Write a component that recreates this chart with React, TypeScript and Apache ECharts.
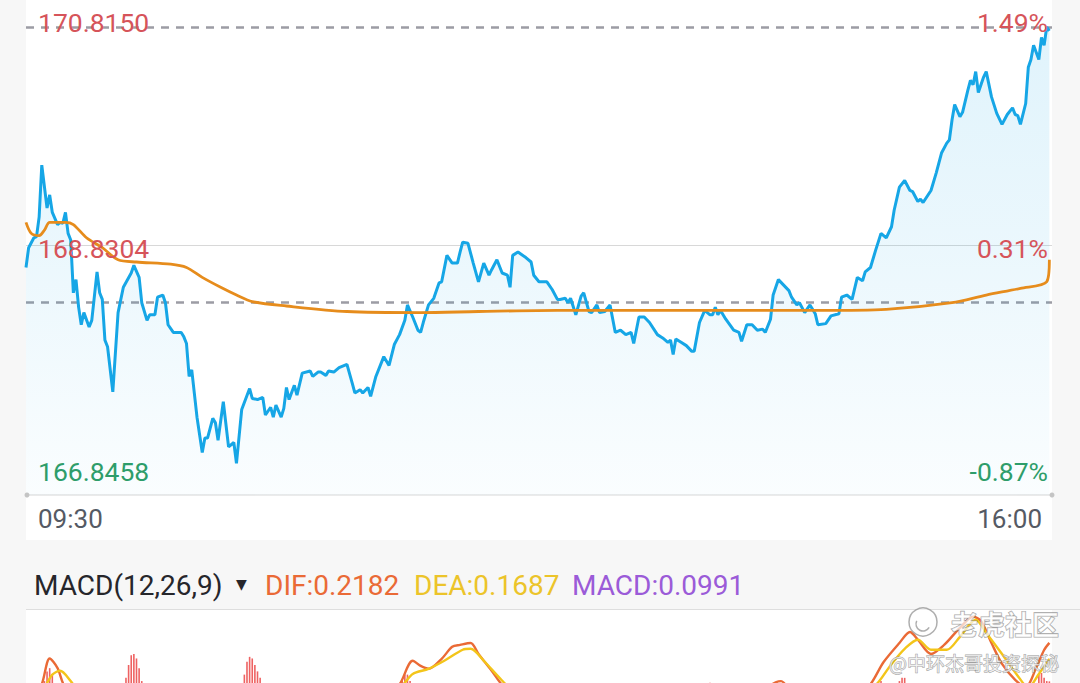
import React, { useEffect, useRef } from "react";
import * as echarts from "echarts";

// ---- price panel (minutes since 09:30, price) ----
const priceMinutes = [0,1,3,4,5,6,8,9,10,12,13,14,15,16,17,18,19,20,21,22,24,25,27,28,29,30,31,33,35,37,40,41,43,44,46,47,49,50,52,53,54,56,59,60,61,62,63,65,67,68,69,71,72,73,75,77,79,80,82,85,86,88,90,91,93,94,95,97,98,99,100,102,103,105,108,109,111,112,114,115,117,119,122,124,125,127,128,130,131,132,133,136,138,140,142,144,145,147,149,150,151,153,155,157,158,160,162,164,165,166,168,170,172,174,176,177,179,181,183,184,185,187,190,192,193,195,198,200,202,203,205,206,207,209,211,212,214,215,217,218,220,222,224,226,228,230,231,233,235,237,240,242,244,245,246,247,249,251,253,254,256,258,260,261,262,263,264,266,269,271,272,274,276,278,280,281,283,284,286,288,290,291,293,294,296,298,300,301,304,306,309,310,312,314,316,318,319,321,323,325,327,329,330,332,334,336,337,339,340,341,344,346,348,350,351,352,353,355,356,358,359,360,361,362,364,365,367,369,371,373,375,376,377,378,380,381,382,383,385,386,387,388,389];
const prices = [168.63,168.81,168.90,168.91,169.09,169.56,169.17,169.29,169.13,169.02,169.04,169.03,169.13,168.94,168.88,168.40,168.52,168.27,168.11,168.22,168.09,168.15,168.59,168.40,168.34,167.97,167.91,167.50,168.22,168.45,168.58,168.65,168.54,168.31,168.15,168.20,168.20,168.36,168.38,168.31,168.11,168.04,168.04,168.00,167.94,167.64,167.70,167.27,166.95,167.08,167.08,167.26,167.22,167.06,167.41,167.00,167.04,166.85,167.34,167.53,167.44,167.43,167.45,167.29,167.36,167.27,167.38,167.27,167.35,167.54,167.43,167.56,167.47,167.67,167.69,167.64,167.68,167.68,167.65,167.69,167.68,167.72,167.75,167.58,167.49,167.52,167.49,167.54,167.46,167.55,167.64,167.82,167.74,167.93,168.02,168.15,168.29,168.18,168.06,168.04,168.13,168.29,168.35,168.49,168.50,168.74,168.67,168.67,168.77,168.86,168.85,168.67,168.50,168.67,168.56,168.61,168.70,168.58,168.56,168.45,168.74,168.77,168.72,168.68,168.56,168.50,168.50,168.43,168.34,168.34,168.35,168.31,168.35,168.20,168.37,168.40,168.23,168.22,168.29,168.22,168.23,168.29,168.04,168.06,168.02,168.04,167.94,168.18,168.18,168.13,168.02,167.99,167.95,167.97,167.84,167.98,167.95,167.92,167.87,167.87,168.13,168.24,168.20,168.20,168.27,168.20,168.24,168.16,168.06,168.04,167.96,168.11,168.11,168.06,168.07,168.04,168.16,168.38,168.52,168.47,168.42,168.36,168.29,168.31,168.22,168.29,168.21,168.11,168.12,168.19,168.21,168.36,168.38,168.34,168.54,168.51,168.59,168.63,168.79,168.94,168.90,169.00,169.15,169.36,169.42,169.33,169.32,169.23,169.25,169.22,169.33,169.49,169.67,169.76,169.79,169.97,170.11,170.00,170.04,170.24,170.33,170.29,170.41,170.22,170.36,170.41,170.18,170.03,169.93,170.02,170.08,170.02,170.01,169.93,170.12,170.45,170.52,170.65,170.52,170.72,170.65,170.815,170.78];

const avgMinutes = [0,2,5,7,9,15,18,23,29,35,42,55,61,67,74,80,86,99,122,150,172,202,302,327,352,365,378,388,389];
const avgPrices = [169.04,168.94,168.92,168.97,169.04,169.04,169.02,168.90,168.81,168.70,168.68,168.66,168.63,168.54,168.45,168.38,168.32,168.28,168.23,168.22,168.23,168.24,168.24,168.25,168.31,168.38,168.44,168.50,168.70];

const prevClose = 168.3073;
const priceHigh = 170.815;
const priceMid = 168.8304;
const priceAxisMin = 166.563;
const leftLabels = ["170.8150", "168.8304", "166.8458"];
const rightLabels = ["1.49%", "0.31%", "-0.87%"];
const timeLabels = ["09:30", "16:00"];

// ---- MACD panel ----
const difMinutes = [3,6,9,12,15,25,40,50,70,90,110,112,118,135,142,147,150,153,158,162,165,169,172,177,181,190,210,240,270,287,292,310,320,326,332,336,339,344,349,355,360,363,367,371,376,380,384,387,389];
const difValues = [0.05,0.09,0.17,0.14,0.08,0.02,0.03,0.0,-0.05,0.02,0.06,0.09,0.06,0.03,0.09,0.163,0.147,0.138,0.169,0.206,0.212,0.218,0.184,0.132,0.088,0.02,-0.04,-0.08,0.0,0.10,0.06,0.03,0.08,0.159,0.218,0.252,0.228,0.184,0.212,0.265,0.299,0.286,0.218,0.153,0.104,0.082,0.141,0.196,0.2182];
const deaMinutes = [3,7,10,13,17,20,35,60,80,100,115,130,142,147,153,159,166,169,174,180,184,200,230,260,290,310,322,329,334,339,344,350,355,361,365,371,377,381,385,389];
const deaValues = [0.04,0.08,0.12,0.132,0.10,0.07,0.03,0.0,-0.03,0.0,0.06,0.05,0.08,0.122,0.138,0.163,0.197,0.20,0.163,0.11,0.08,0.03,-0.05,-0.03,0.06,0.04,0.08,0.153,0.20,0.228,0.197,0.197,0.237,0.29,0.249,0.184,0.116,0.08,0.122,0.1687];
const macdMinutes = [6,7,8,9,10,11,12,37,38,39,40,41,42,43,44,45,82,83,84,85,86,87,88,89,90,91,142,143,144,145,146,147,258,259,260,261,262,323,324,325,326,327,331,332,333,334,335,336,353,354,355,383,384,385,386,387,388,389];
const macdValues = [0.06,0.10,0.13,0.14,0.12,0.08,0.05,0.06,0.11,0.15,0.18,0.184,0.17,0.14,0.10,0.06,0.07,0.12,0.16,0.175,0.17,0.15,0.13,0.11,0.09,0.06,0.06,0.10,0.12,0.12,0.10,0.07,0.06,0.09,0.095,0.08,0.05,0.05,0.08,0.10,0.09,0.06,0.07,0.10,0.11,0.11,0.09,0.06,0.06,0.088,0.08,0.06,0.09,0.12,0.125,0.11,0.10,0.0991];
const macdHeader = ["MACD(12,26,9)", "▼", "DIF:0.2182", "DEA:0.1687", "MACD:0.0991"];
const watermark = ["老虎社区", "@中环杰哥投资探秘"];

const zip = (xs: number[], ys: number[]) => xs.map((x, i) => [x, ys[i]]);

const FONT = "Roboto, 'Noto Sans', sans-serif";
const RED = "#d6545a";
const GREEN = "#2e9d6a";

export default function App() {
  const ref = useRef<HTMLDivElement>(null);
  useEffect(() => {
    if (!ref.current) return;
    const chart = echarts.init(ref.current, undefined, { renderer: "svg" });
    const dashed = { color: "#9c9ca4", type: [8, 7] as any, width: 2.5 };
    chart.setOption({
      animation: false,
      backgroundColor: "#f7f7f7",
      grid: [
        { left: 26, top: 27, width: 1026, height: 468 },
        { left: 26, top: 610, width: 1026, height: 168 },
      ],
      xAxis: [
        {
          type: "value", gridIndex: 0, min: 0, max: 390,
          axisLine: { show: true, lineStyle: { color: "#e4e4e4", width: 1.5 } },
          axisTick: { show: false }, axisLabel: { show: false }, splitLine: { show: false },
        },
        {
          type: "value", gridIndex: 1, min: 0, max: 390, show: false, splitLine: { show: false },
        },
      ],
      yAxis: [
        {
          type: "value", gridIndex: 0, min: priceAxisMin, max: priceHigh, show: false,
          splitLine: { show: false }, scale: true,
        },
        {
          type: "value", gridIndex: 1, min: -0.2, max: 0.32, show: false, splitLine: { show: false },
        },
      ],
      series: [
        {
          type: "line", xAxisIndex: 0, yAxisIndex: 0, data: zip(priceMinutes, prices),
          showSymbol: false, z: 3,
          lineStyle: { color: "#16a6e6", width: 3 },
          areaStyle: {
            color: new echarts.graphic.LinearGradient(0, 0, 0, 1, [
              { offset: 0, color: "rgba(23,167,230,0.19)" },
              { offset: 0.5, color: "rgba(23,167,230,0.12)" },
              { offset: 1, color: "rgba(23,167,230,0.03)" },
            ]),
          },
          markLine: {
            silent: true, symbol: "none", label: { show: false }, z: 2,
            data: [
              { yAxis: priceHigh, lineStyle: dashed },
              { yAxis: prevClose, lineStyle: dashed },
              { yAxis: priceMid, lineStyle: { color: "#d8d8d8", type: "solid", width: 1 } },
            ],
          },
        },
        {
          type: "line", xAxisIndex: 0, yAxisIndex: 0, data: zip(avgMinutes, avgPrices),
          showSymbol: false, smooth: 0.3, z: 4,
          lineStyle: { color: "#e68c1c", width: 2.8 },
        },
        {
          type: "bar", xAxisIndex: 1, yAxisIndex: 1, data: zip(macdMinutes, macdValues),
          barWidth: 1.6, itemStyle: { color: "#ee6262" }, z: 2,
        },
        {
          type: "line", xAxisIndex: 1, yAxisIndex: 1, data: zip(difMinutes, difValues),
          showSymbol: false, smooth: 0.3, lineStyle: { color: "#ea6a36", width: 2.4 }, z: 3,
        },
        {
          type: "line", xAxisIndex: 1, yAxisIndex: 1, data: zip(deaMinutes, deaValues),
          showSymbol: false, smooth: 0.3, lineStyle: { color: "#f3c51a", width: 2.4 }, z: 3,
        },
      ],
      graphic: [
        { type: "rect", z: -10, shape: { x: 26, y: 0, width: 1026, height: 540 }, style: { fill: "#ffffff" } },
        { type: "rect", z: -10, shape: { x: 26, y: 610, width: 1026, height: 200 }, style: { fill: "#ffffff" } },
        { type: "line", z: -9, shape: { x1: 26, y1: 609.5, x2: 1080, y2: 609.5 }, style: { stroke: "#dedede", lineWidth: 1 } },
        { type: "circle", z: 10, shape: { cx: 27, cy: 495, r: 2.5 }, style: { fill: "#c4c4c4" } },
        { type: "circle", z: 10, shape: { cx: 1052, cy: 495, r: 2.5 }, style: { fill: "#c4c4c4" } },
        // left price labels
        { type: "text", z: 100, x: 38, y: 22, style: { text: leftLabels[0], fill: RED, font: `26.5px ${FONT}`, textVerticalAlign: "middle" } },
        { type: "text", z: 100, x: 38, y: 248, style: { text: leftLabels[1], fill: RED, font: `26.5px ${FONT}`, textVerticalAlign: "middle" } },
        { type: "text", z: 100, x: 38, y: 471, style: { text: leftLabels[2], fill: GREEN, font: `26.5px ${FONT}`, textVerticalAlign: "middle" } },
        // right percent labels
        { type: "text", z: 100, x: 1048, y: 22, style: { text: rightLabels[0], fill: RED, font: `26.5px ${FONT}`, textAlign: "right", textVerticalAlign: "middle" } },
        { type: "text", z: 100, x: 1048, y: 248, style: { text: rightLabels[1], fill: RED, font: `26.5px ${FONT}`, textAlign: "right", textVerticalAlign: "middle" } },
        { type: "text", z: 100, x: 1048, y: 471, style: { text: rightLabels[2], fill: GREEN, font: `26.5px ${FONT}`, textAlign: "right", textVerticalAlign: "middle" } },
        // time labels
        { type: "text", z: 100, x: 38, y: 519, style: { text: timeLabels[0], fill: "#555a64", font: `26px ${FONT}`, textVerticalAlign: "middle" } },
        { type: "text", z: 100, x: 1042, y: 519, style: { text: timeLabels[1], fill: "#555a64", font: `26px ${FONT}`, textAlign: "right", textVerticalAlign: "middle" } },
        // MACD header
        { type: "text", z: 100, x: 34, y: 585, style: { text: macdHeader[0], fill: "#26262b", font: `28px ${FONT}`, textVerticalAlign: "middle" } },
        { type: "text", z: 100, x: 236, y: 584, style: { text: macdHeader[1], fill: "#26262b", font: `14px 'DejaVu Sans', sans-serif`, textVerticalAlign: "middle" } },
        { type: "text", z: 100, x: 265, y: 585, style: { text: macdHeader[2], fill: "#ea6a36", font: `28px ${FONT}`, textVerticalAlign: "middle" } },
        { type: "text", z: 100, x: 414, y: 585, style: { text: macdHeader[3], fill: "#ecc42a", font: `28px ${FONT}`, textVerticalAlign: "middle" } },
        { type: "text", z: 100, x: 572, y: 585, style: { text: macdHeader[4], fill: "#9b5bd8", font: `28px ${FONT}`, textVerticalAlign: "middle" } },
        // watermark
        { type: "circle", z: 100, shape: { cx: 923, cy: 622, r: 14 }, style: { fill: "rgba(255,255,255,0.5)", stroke: "rgba(140,140,140,0.7)", lineWidth: 1.5 } },
        { type: "arc", z: 100, shape: { cx: 923, cy: 624, r: 7, startAngle: 0.5, endAngle: 3.6 }, style: { fill: "none", stroke: "rgba(140,140,140,0.7)", lineWidth: 1.5 } },
        { type: "text", z: 100, x: 951, y: 623, style: { text: watermark[0], fill: "rgba(255,255,255,0.7)", stroke: "rgba(130,130,130,0.75)", lineWidth: 1.2, font: `bold 27px 'Noto Sans CJK SC', sans-serif`, textVerticalAlign: "middle" } },
        { type: "text", z: 100, x: 1059, y: 662, style: { text: watermark[1], fill: "rgba(255,255,255,0.7)", stroke: "rgba(130,130,130,0.75)", lineWidth: 1, font: `19px 'Noto Sans CJK SC', sans-serif`, textAlign: "right", textVerticalAlign: "middle" } },
      ],
    });
    return () => chart.dispose();
  }, []);
  return (
    <div
      ref={ref}
      style={{ position: "fixed", left: 0, top: 0, width: 1080, height: 790, background: "#f7f7f7" }}
    />
  );
}
